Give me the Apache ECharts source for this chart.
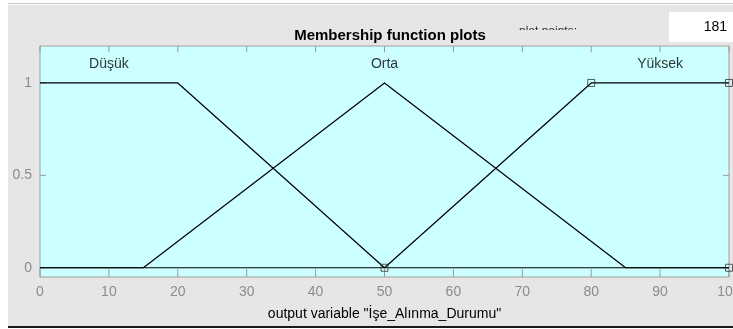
<!DOCTYPE html>
<html>
<head>
<meta charset="utf-8">
<script src="https://cdn.jsdelivr.net/npm/echarts@6/dist/echarts.min.js"></script>
<style>
  html, body { margin: 0; padding: 0; background: #ffffff; overflow: hidden; }
  #chart { width: 745px; height: 329px; }
</style>
</head>
<body>
<div id="chart"></div>
<script>
// Output variable range and tick labels
const xTicks = [0, 10, 20, 30, 40, 50, 60, 70, 80, 90, 100];
const yTicks = [0, 0.5, 1];
const yMin = -0.05;
const yMax = 1.2;

// Membership function names and their label positions (x, y)
const mfNames = ['Düşük', 'Orta', 'Yüksek'];
const mfLabelX = [10, 50, 90];
const mfLabelY = [1.1, 1.1, 1.1];

// Polyline vertices of each membership function over the range 0..100
const dusukPts  = [[0, 1], [20, 1], [50, 0], [100, 0]];
const ortaPts   = [[0, 0], [15, 0], [50, 1], [85, 0], [100, 0]];
const yuksekPts = [[0, 0], [50, 0], [80, 1], [100, 1]];

// Parameter handles of the selected function (trapmf 50 80 100 100)
const yuksekHandles = [[50, 0], [80, 1], [100, 1], [100, 0]];

const plotPoints = '181';

const chart = echarts.init(document.getElementById('chart'), null, { renderer: 'canvas' });

const font = '"Liberation Sans", Arial, Helvetica, sans-serif';
const lineStyle = { color: '#000000', width: 1.2 };
const tickColor = '#9a9a9a';
const labelColor = '#8c8c8c';

// tick lengths in data units (about 8px vertical, 6px horizontal)
const xTickLen = 0.043;
const yTickLen = 0.87;

function mfSeries(name, pts) {
  return {
    name: name,
    type: 'line',
    data: pts,
    symbol: 'none',
    lineStyle: lineStyle,
    z: 3
  };
}

// one short segment per tick, pointing into the plot box
function tickLine(name, a, b) {
  return {
    name: name,
    type: 'line',
    data: [a, b],
    symbol: 'none',
    lineStyle: { color: tickColor, width: 1 },
    silent: true,
    z: 2
  };
}

const tickSeries = [].concat(
  xTicks.map(v => tickLine('tb' + v, [v, yMin], [v, yMin + xTickLen])),
  xTicks.map(v => tickLine('tt' + v, [v, yMax], [v, yMax - xTickLen * 0.8])),
  yTicks.map(v => tickLine('tl' + v, [0, v], [yTickLen, v])),
  yTicks.map(v => tickLine('tr' + v, [100, v], [100 - yTickLen, v]))
);

const option = {
  animation: false,
  backgroundColor: '#ffffff',
  graphic: [
    // window panel
    { type: 'rect', shape: { x: 8, y: 5, width: 740, height: 321 }, style: { fill: '#e6e6e6' }, z: -10 },
    { type: 'line', shape: { x1: 8, y1: 3.5, x2: 745, y2: 3.5 }, style: { stroke: '#c8c8c8', lineWidth: 1 }, z: -9 },
    { type: 'line', shape: { x1: 8, y1: 327, x2: 745, y2: 327 }, style: { stroke: '#1a1a1a', lineWidth: 2 }, z: -9 },
    // plot points box
    { type: 'rect', shape: { x: 669, y: 12, width: 76, height: 30 }, style: { fill: '#ffffff' }, z: -8 },
    { type: 'text', x: 727, y: 27, style: { text: plotPoints, font: '14px ' + font, fill: '#000', textAlign: 'right', textVerticalAlign: 'middle' }, z: 5 },
    { type: 'group', x: 0, y: 0, clipPath: { type: 'rect', shape: { x: 500, y: 0, width: 160, height: 30 } }, children: [
      { type: 'text', x: 548, y: 32, style: { text: 'plot points:', font: '12px ' + font, fill: '#333', textAlign: 'center', textVerticalAlign: 'middle' } }
    ], z: 5 }
  ],
  title: {
    text: 'Membership function plots',
    left: 385,
    top: 23,
    textAlign: 'center',
    textStyle: { fontFamily: font, fontSize: 15, fontWeight: 'bold', color: '#000' }
  },
  grid: {
    left: 40, right: 16, top: 46, bottom: 52,
    show: true,
    z: 0,
    backgroundColor: '#ccffff',
    borderColor: '#a0a0a0',
    borderWidth: 1
  },
  xAxis: {
    type: 'value', min: 0, max: 100, interval: 10,
    position: 'bottom',
    name: 'output variable "İşe_Alınma_Durumu"',
    nameLocation: 'middle',
    nameGap: 30,
    nameTextStyle: { fontFamily: font, fontSize: 14, color: '#000' },
    axisLine: { show: false, onZero: false },
    axisTick: { show: false },
    axisLabel: { fontFamily: font, fontSize: 14, color: labelColor, margin: 8,
      formatter: v => xTicks.includes(v) ? String(v) : '' },
    splitLine: { show: false }
  },
  yAxis: {
    type: 'value', min: yMin, max: yMax,
    position: 'left',
    axisLine: { show: false, onZero: false },
    axisTick: { show: false },
    axisLabel: { show: true, customValues: yTicks, margin: 8,
      fontFamily: font, fontSize: 14, color: labelColor,
      formatter: v => String(v) },
    splitLine: { show: false }
  },
  series: tickSeries.concat([
    mfSeries(mfNames[0], dusukPts),
    mfSeries(mfNames[1], ortaPts),
    mfSeries(mfNames[2], yuksekPts),
    {
      name: 'handles',
      type: 'scatter',
      data: yuksekHandles,
      symbol: 'rect',
      symbolSize: 7,
      itemStyle: { color: 'rgba(0,0,0,0)', borderColor: '#333', borderWidth: 1 },
      z: 7
    },
    {
      // membership function names
      name: 'names',
      type: 'scatter',
      data: mfNames.map((n, i) => ({ value: [mfLabelX[i], mfLabelY[i]], name: n })),
      symbolSize: 0,
      label: {
        show: true, position: 'inside',
        formatter: p => p.name,
        fontFamily: font, fontSize: 14, color: '#000'
      },
      silent: true,
      z: 8
    }
  ])
};

chart.setOption(option);
</script>
</body>
</html>
